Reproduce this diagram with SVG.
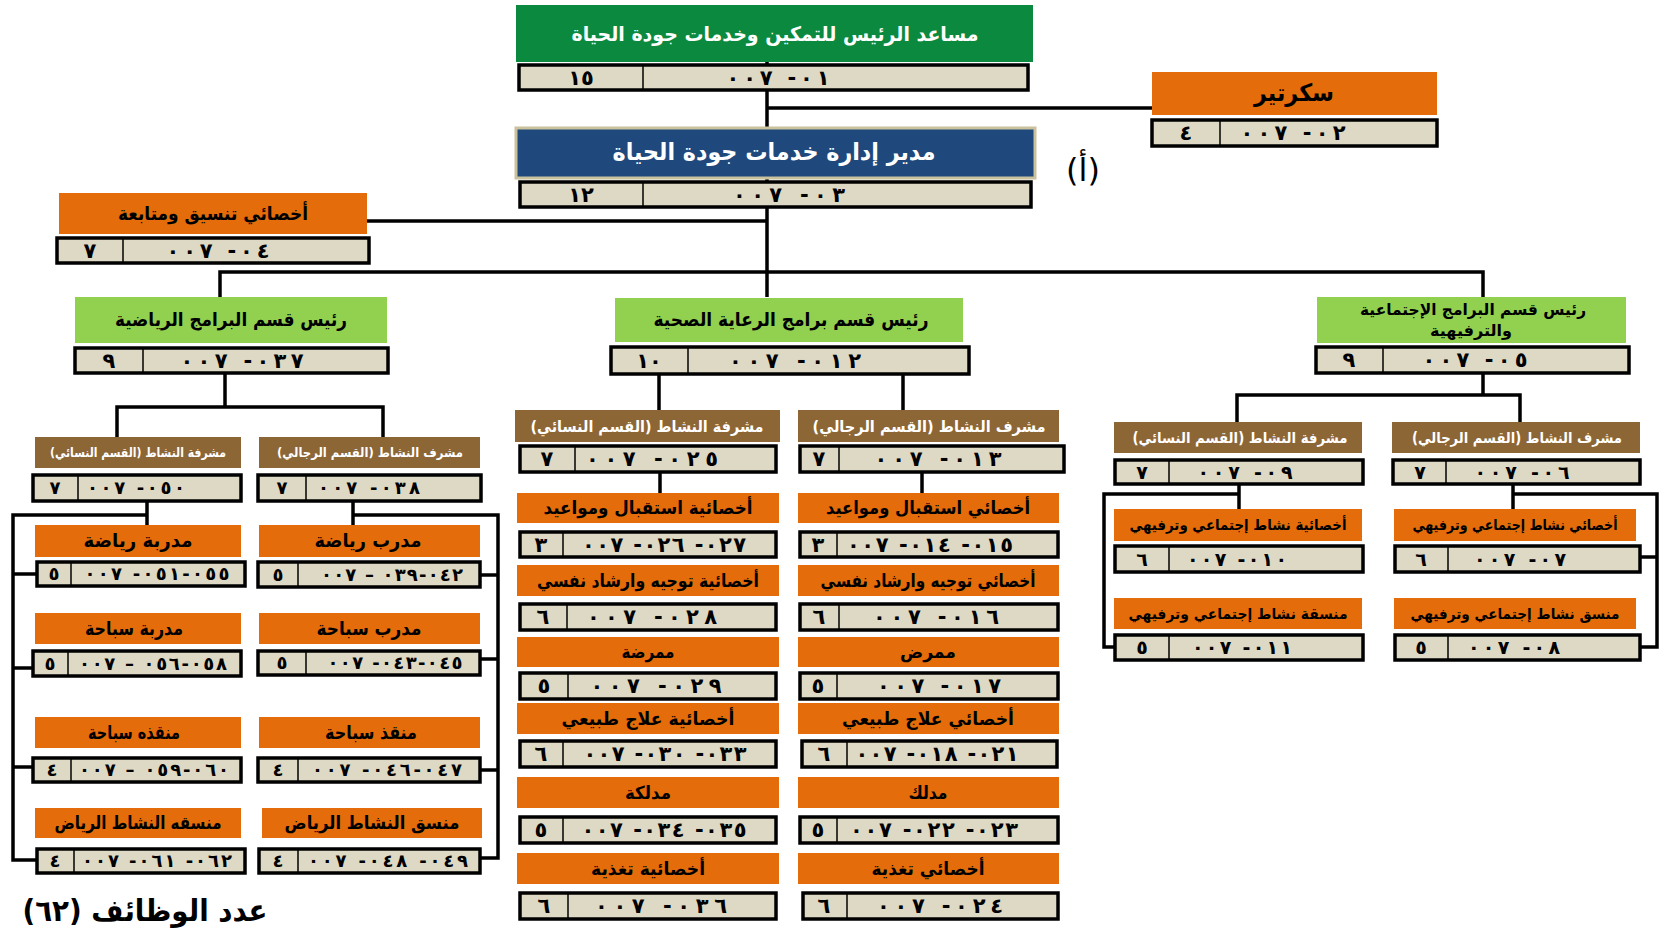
<svg xmlns="http://www.w3.org/2000/svg" width="1661" height="930" viewBox="0 0 1661 930">
<style>
.bg{fill:#fff}
.ln{fill:none;stroke:#000;stroke-width:3.5;stroke-linejoin:miter}
.cb{fill:#ddd9c4;stroke:#000;stroke-width:3.5}
.dv{stroke:#000;stroke-width:1.5}
.or{fill:#e46c0a}
.gr{fill:#92d050}
.br{fill:#8d6636}
.dg{fill:#0b8a3f}
.bl{fill:#1f497d;stroke:#c9c29c;stroke-width:3}
.ar{font-family:"DejaVu Sans",sans-serif;font-weight:bold;direction:rtl;text-anchor:middle;fill:#000}
.w{fill:#fff}
.cd{font-family:"DejaVu Sans",sans-serif;font-weight:bold;direction:ltr;unicode-bidi:bidi-override;text-anchor:middle;fill:#000;font-size:21px}
.s15{font-size:18px}
.s16{font-size:19px}
</style>
<rect class="bg" x="0" y="0" width="1661" height="930"/>
<g id="connectors">
<path class="ln" d="M767 62 V297"/>
<path class="ln" d="M767 108 H1152"/>
<path class="ln" d="M767 221 H367"/>
<path class="ln" d="M220 297 V272 H1483 V297"/>
<path class="ln" d="M225 373 V407"/>
<path class="ln" d="M117 437 V407 H383 V437"/>
<path class="ln" d="M659 374 V410"/>
<path class="ln" d="M903 374 V410"/>
<path class="ln" d="M1483 373 V395"/>
<path class="ln" d="M1237 422 V395 H1520 V422"/>
<path class="ln" d="M147 501 V525"/>
<path class="ln" d="M147 515 H13 V860 H37"/>
<path class="ln" d="M13 574 H37"/>
<path class="ln" d="M13 668 H33"/>
<path class="ln" d="M13 767 H33"/>
<path class="ln" d="M353 501 V525"/>
<path class="ln" d="M353 515 H498 V858 H480"/>
<path class="ln" d="M480 575 H498"/>
<path class="ln" d="M480 659 H498"/>
<path class="ln" d="M480 770 H498"/>
<path class="ln" d="M660 472 V493"/>
<path class="ln" d="M922 472 V493"/>
<path class="ln" d="M1239 484 V510"/>
<path class="ln" d="M1239 494 H1104 V647 H1115"/>
<path class="ln" d="M1513 484 V510"/>
<path class="ln" d="M1513 494 H1657 V647 H1640"/>
<path class="ln" d="M1640 557 H1657"/>
</g>

<g id="n-assistant">
<rect class="dg" x="516" y="5" width="517" height="57"/>
<text class="ar w" x="775" y="41" font-size="20" textLength="407" lengthAdjust="spacingAndGlyphs">مساعد الرئيس للتمكين وخدمات جودة الحياة</text>
<rect class="cb" x="519" y="65" width="509" height="25"/>
<line class="dv" x1="643" y1="65" x2="643" y2="90"/>
<text class="cd" x="581" y="85">١٥</text>
<text class="cd" x="778" y="85" textLength="103" lengthAdjust="spacing">٠٠٧ -٠١</text>
</g>

<g id="n-secretary">
<rect class="or" x="1152" y="72" width="285" height="43"/>
<text class="ar" x="1294" y="101" font-size="24" textLength="80" lengthAdjust="spacingAndGlyphs">سكرتير</text>
<rect class="cb" x="1152" y="120" width="285" height="26"/>
<line class="dv" x1="1220" y1="120" x2="1220" y2="146"/>
<text class="cd" x="1186" y="140">٤</text>
<text class="cd" x="1293" y="140" textLength="105" lengthAdjust="spacing">٠٠٧ -٠٢</text>
</g>

<g id="n-director">
<rect class="bl" x="516" y="128" width="519" height="50"/>
<text class="ar w" x="774" y="160" font-size="24" textLength="323" lengthAdjust="spacingAndGlyphs">مدير إدارة خدمات جودة الحياة</text>
<rect class="cb" x="520" y="182" width="511" height="25"/>
<line class="dv" x1="643" y1="182" x2="643" y2="207"/>
<text class="cd" x="581" y="202">١٢</text>
<text class="cd" x="789" y="202" textLength="112" lengthAdjust="spacing">٠٠٧ -٠٣</text>
</g>

<text x="1083" y="181" font-family="DejaVu Sans, sans-serif" font-size="32" text-anchor="middle" direction="rtl">(أ)</text>

<g id="n-coord">
<rect class="or" x="59" y="193" width="308" height="41"/>
<text class="ar" x="213" y="220" font-size="19" textLength="190" lengthAdjust="spacingAndGlyphs">أخصائي تنسيق ومتابعة</text>
<rect class="cb" x="57" y="238" width="312" height="25"/>
<line class="dv" x1="123" y1="238" x2="123" y2="263"/>
<text class="cd" x="90" y="258">٧</text>
<text class="cd" x="218" y="258" textLength="103" lengthAdjust="spacing">٠٠٧ -٠٤</text>
</g>

<g id="n-sports-head">
<rect class="gr" x="75" y="297" width="312" height="46"/>
<text class="ar" x="231" y="326" font-size="19" textLength="232" lengthAdjust="spacingAndGlyphs">رئيس قسم البرامج الرياضية</text>
<rect class="cb" x="75" y="348" width="313" height="25"/>
<line class="dv" x1="143" y1="348" x2="143" y2="373"/>
<text class="cd" x="109" y="368">٩</text>
<text class="cd" x="242" y="368" textLength="123" lengthAdjust="spacing">٠٠٧ -٠٣٧</text>
</g>

<g id="n-health-head">
<rect class="gr" x="615" y="298" width="348" height="44"/>
<text class="ar" x="791" y="326" font-size="19" textLength="275" lengthAdjust="spacingAndGlyphs">رئيس قسم برامج الرعاية الصحية</text>
<rect class="cb" x="611" y="347" width="358" height="27"/>
<line class="dv" x1="688" y1="347" x2="688" y2="374"/>
<text class="cd" x="649" y="368">١٠</text>
<text class="cd" x="795" y="368" textLength="132" lengthAdjust="spacing">٠٠٧ -٠١٢</text>
</g>

<g id="n-social-head">
<rect class="gr" x="1317" y="297" width="309" height="46"/>
<text class="ar" x="1473" y="315" font-size="16" textLength="226" lengthAdjust="spacingAndGlyphs">رئيس قسم البرامج الإجتماعية</text>
<text class="ar" x="1471" y="336" font-size="16" textLength="82" lengthAdjust="spacingAndGlyphs">والترفيهية</text>
<rect class="cb" x="1316" y="347" width="313" height="26"/>
<line class="dv" x1="1383" y1="347" x2="1383" y2="373"/>
<text class="cd" x="1349" y="367">٩</text>
<text class="cd" x="1475" y="367" textLength="105" lengthAdjust="spacing">٠٠٧ -٠٥</text>
</g>

<!-- Sports section -->
<g id="n-sports-sup-f">
<rect class="br" x="35" y="437" width="206" height="31"/>
<text class="ar w" x="138" y="457" font-size="13" textLength="176" lengthAdjust="spacingAndGlyphs">مشرفة النشاط (القسم النسائي)</text>
<rect class="cb" x="33" y="475" width="208" height="26"/>
<line class="dv" x1="78" y1="475" x2="78" y2="501"/>
<text class="cd s15" x="55" y="494">٧</text>
<text class="cd s15" x="136" y="494" textLength="98" lengthAdjust="spacing">٠٠٧ -٠٥٠</text>
</g>
<g id="n-sports-sup-m">
<rect class="br" x="259" y="437" width="221" height="31"/>
<text class="ar w" x="370" y="457" font-size="13" textLength="186" lengthAdjust="spacingAndGlyphs">مشرف النشاط (القسم الرجالي)</text>
<rect class="cb" x="258" y="475" width="223" height="26"/>
<line class="dv" x1="306" y1="475" x2="306" y2="501"/>
<text class="cd s15" x="282" y="494">٧</text>
<text class="cd s15" x="369" y="494" textLength="102" lengthAdjust="spacing">٠٠٧ -٠٣٨</text>
</g>

<g id="n-s-f1">
<rect class="or" x="35" y="525" width="206" height="32"/>
<text class="ar" x="138" y="547" font-size="19" textLength="109" lengthAdjust="spacingAndGlyphs">مدربة رياضة</text>
<rect class="cb" x="37" y="562" width="208" height="24"/>
<line class="dv" x1="71" y1="562" x2="71" y2="586"/>
<text class="cd s15" x="54" y="580">٥</text>
<text class="cd s15" x="157" y="580" textLength="145" lengthAdjust="spacing">٠٠٧ -٠٥١-٠٥٥</text>
</g>
<g id="n-s-f2">
<rect class="or" x="35" y="613" width="206" height="31"/>
<text class="ar" x="134" y="635" font-size="19" textLength="98" lengthAdjust="spacingAndGlyphs">مدربة سباحة</text>
<rect class="cb" x="33" y="651" width="208" height="25"/>
<line class="dv" x1="68" y1="651" x2="68" y2="676"/>
<text class="cd s15" x="50" y="670">٥</text>
<text class="cd s15" x="153" y="670" textLength="148" lengthAdjust="spacing">٠٠٧ – ٠٥٦-٠٥٨</text>
</g>
<g id="n-s-f3">
<rect class="or" x="35" y="717" width="206" height="31"/>
<text class="ar" x="134" y="739" font-size="19" textLength="92" lengthAdjust="spacingAndGlyphs">منقذه سباحة</text>
<rect class="cb" x="33" y="758" width="208" height="24"/>
<line class="dv" x1="71" y1="758" x2="71" y2="782"/>
<text class="cd s15" x="52" y="776">٤</text>
<text class="cd s15" x="154" y="776" textLength="150" lengthAdjust="spacing">٠٠٧ – ٠٥٩-٠٦٠</text>
</g>
<g id="n-s-f4">
<rect class="or" x="35" y="808" width="206" height="30"/>
<text class="ar" x="138" y="829" font-size="18" textLength="167" lengthAdjust="spacingAndGlyphs">منسقه النشاط الرياض</text>
<rect class="cb" x="37" y="849" width="208" height="24"/>
<line class="dv" x1="74" y1="849" x2="74" y2="873"/>
<text class="cd s15" x="55" y="867">٤</text>
<text class="cd s15" x="157" y="867" textLength="150" lengthAdjust="spacing">٠٠٧ -٠٦١ -٠٦٢</text>
</g>

<g id="n-s-m1">
<rect class="or" x="259" y="525" width="221" height="32"/>
<text class="ar" x="368" y="547" font-size="19" textLength="107" lengthAdjust="spacingAndGlyphs">مدرب رياضة</text>
<rect class="cb" x="258" y="562" width="222" height="25"/>
<line class="dv" x1="298" y1="562" x2="298" y2="587"/>
<text class="cd s15" x="278" y="581">٥</text>
<text class="cd s15" x="392" y="581" textLength="142" lengthAdjust="spacing">٠٠٧ – ٠٣٩-٠٤٢</text>
</g>
<g id="n-s-m2">
<rect class="or" x="259" y="613" width="221" height="31"/>
<text class="ar" x="369" y="635" font-size="19" textLength="105" lengthAdjust="spacingAndGlyphs">مدرب سباحة</text>
<rect class="cb" x="258" y="651" width="222" height="24"/>
<line class="dv" x1="306" y1="651" x2="306" y2="675"/>
<text class="cd s15" x="282" y="669">٥</text>
<text class="cd s15" x="395" y="669" textLength="135" lengthAdjust="spacing">٠٠٧ -٠٤٣-٠٤٥</text>
</g>
<g id="n-s-m3">
<rect class="or" x="259" y="717" width="221" height="31"/>
<text class="ar" x="371" y="739" font-size="19" textLength="92" lengthAdjust="spacingAndGlyphs">منقذ سباحة</text>
<rect class="cb" x="258" y="758" width="222" height="24"/>
<line class="dv" x1="298" y1="758" x2="298" y2="782"/>
<text class="cd s15" x="278" y="776">٤</text>
<text class="cd s15" x="387" y="776" textLength="150" lengthAdjust="spacing">٠٠٧ -٠٤٦-٠٤٧</text>
</g>
<g id="n-s-m4">
<rect class="or" x="262" y="808" width="220" height="30"/>
<text class="ar" x="372" y="829" font-size="18" textLength="175" lengthAdjust="spacingAndGlyphs">منسق النشاط الرياض</text>
<rect class="cb" x="259" y="849" width="221" height="24"/>
<line class="dv" x1="298" y1="849" x2="298" y2="873"/>
<text class="cd s15" x="278" y="867">٤</text>
<text class="cd s15" x="388" y="867" textLength="160" lengthAdjust="spacing">٠٠٧ -٠٤٨ -٠٤٩</text>
</g>

<!-- Health section -->
<g id="n-h-sup-f">
<rect class="br" x="515" y="410" width="265" height="32"/>
<text class="ar w" x="647" y="432" font-size="16" textLength="233" lengthAdjust="spacingAndGlyphs">مشرفة النشاط (القسم النسائي)</text>
<rect class="cb" x="520" y="446" width="256" height="26"/>
<line class="dv" x1="575" y1="446" x2="575" y2="472"/>
<text class="cd" x="547" y="466">٧</text>
<text class="cd" x="652" y="466" textLength="132" lengthAdjust="spacing">٠٠٧ -٠٢٥</text>
</g>
<g id="n-h-sup-m">
<rect class="br" x="798" y="410" width="261" height="32"/>
<text class="ar w" x="929" y="432" font-size="16" textLength="233" lengthAdjust="spacingAndGlyphs">مشرف النشاط  (القسم الرجالي)</text>
<rect class="cb" x="800" y="446" width="264" height="26"/>
<line class="dv" x1="839" y1="446" x2="839" y2="472"/>
<text class="cd" x="819" y="466">٧</text>
<text class="cd" x="938" y="466" textLength="127" lengthAdjust="spacing">٠٠٧ -٠١٣</text>
</g>

<g id="n-h-f1">
<rect class="or" x="517" y="493" width="262" height="30"/>
<text class="ar" x="648" y="514" font-size="18" textLength="209" lengthAdjust="spacingAndGlyphs">أخصائية استقبال ومواعيد</text>
<rect class="cb" x="520" y="532" width="256" height="25"/>
<line class="dv" x1="563" y1="532" x2="563" y2="557"/>
<text class="cd" x="541" y="552">٣</text>
<text class="cd" x="664" y="552" textLength="164" lengthAdjust="spacing">٠٠٧ -٠٢٦ -٠٢٧</text>
</g>
<g id="n-h-f2">
<rect class="or" x="517" y="565" width="262" height="31"/>
<text class="ar" x="648" y="587" font-size="18" textLength="222" lengthAdjust="spacingAndGlyphs">أخصائية توجيه وارشاد نفسي</text>
<rect class="cb" x="520" y="604" width="256" height="26"/>
<line class="dv" x1="567" y1="604" x2="567" y2="630"/>
<text class="cd" x="543" y="624">٦</text>
<text class="cd" x="652" y="624" textLength="130" lengthAdjust="spacing">٠٠٧ -٠٢٨</text>
</g>
<g id="n-h-f3">
<rect class="or" x="517" y="637" width="262" height="30"/>
<text class="ar" x="648" y="658" font-size="18" textLength="53" lengthAdjust="spacingAndGlyphs">ممرضة</text>
<rect class="cb" x="520" y="673" width="256" height="26"/>
<line class="dv" x1="568" y1="673" x2="568" y2="699"/>
<text class="cd" x="544" y="693">٥</text>
<text class="cd" x="656" y="693" textLength="131" lengthAdjust="spacing">٠٠٧ -٠٢٩</text>
</g>
<g id="n-h-f4">
<rect class="or" x="517" y="703" width="262" height="31"/>
<text class="ar" x="648" y="725" font-size="18" textLength="173" lengthAdjust="spacingAndGlyphs">أخصائية علاج طبيعي</text>
<rect class="cb" x="520" y="741" width="256" height="26"/>
<line class="dv" x1="563" y1="741" x2="563" y2="767"/>
<text class="cd" x="541" y="761">٦</text>
<text class="cd" x="665" y="761" textLength="163" lengthAdjust="spacing">٠٠٧ -٠٣٠ -٠٣٣</text>
</g>
<g id="n-h-f5">
<rect class="or" x="517" y="777" width="262" height="31"/>
<text class="ar" x="648" y="799" font-size="18" textLength="46" lengthAdjust="spacingAndGlyphs">مدلكة</text>
<rect class="cb" x="520" y="817" width="256" height="26"/>
<line class="dv" x1="563" y1="817" x2="563" y2="843"/>
<text class="cd" x="541" y="837">٥</text>
<text class="cd" x="664" y="837" textLength="165" lengthAdjust="spacing">٠٠٧ -٠٣٤ -٠٣٥</text>
</g>
<g id="n-h-f6">
<rect class="or" x="517" y="853" width="262" height="31"/>
<text class="ar" x="648" y="875" font-size="18" textLength="114" lengthAdjust="spacingAndGlyphs">أخصائية تغذية</text>
<rect class="cb" x="520" y="893" width="256" height="26"/>
<line class="dv" x1="568" y1="893" x2="568" y2="919"/>
<text class="cd" x="544" y="913">٦</text>
<text class="cd" x="661" y="913" textLength="132" lengthAdjust="spacing">٠٠٧ -٠٣٦</text>
</g>

<g id="n-h-m1">
<rect class="or" x="798" y="493" width="261" height="30"/>
<text class="ar" x="928" y="514" font-size="18" textLength="204" lengthAdjust="spacingAndGlyphs">أخصائي استقبال ومواعيد</text>
<rect class="cb" x="800" y="532" width="258" height="25"/>
<line class="dv" x1="837" y1="532" x2="837" y2="557"/>
<text class="cd" x="818" y="552">٣</text>
<text class="cd" x="930" y="552" textLength="166" lengthAdjust="spacing">٠٠٧ -٠١٤ -٠١٥</text>
</g>
<g id="n-h-m2">
<rect class="or" x="798" y="565" width="261" height="31"/>
<text class="ar" x="928" y="587" font-size="18" textLength="215" lengthAdjust="spacingAndGlyphs">أخصائي توجيه وارشاد نفسي</text>
<rect class="cb" x="800" y="604" width="258" height="26"/>
<line class="dv" x1="839" y1="604" x2="839" y2="630"/>
<text class="cd" x="819" y="624">٦</text>
<text class="cd" x="936" y="624" textLength="126" lengthAdjust="spacing">٠٠٧ -٠١٦</text>
</g>
<g id="n-h-m3">
<rect class="or" x="798" y="637" width="261" height="30"/>
<text class="ar" x="928" y="658" font-size="18" textLength="56" lengthAdjust="spacingAndGlyphs">ممرض</text>
<rect class="cb" x="800" y="673" width="258" height="26"/>
<line class="dv" x1="837" y1="673" x2="837" y2="699"/>
<text class="cd" x="818" y="693">٥</text>
<text class="cd" x="939" y="693" textLength="124" lengthAdjust="spacing">٠٠٧ -٠١٧</text>
</g>
<g id="n-h-m4">
<rect class="or" x="798" y="703" width="261" height="31"/>
<text class="ar" x="928" y="725" font-size="18" textLength="172" lengthAdjust="spacingAndGlyphs">أخصائي علاج طبيعي</text>
<rect class="cb" x="802" y="741" width="255" height="26"/>
<line class="dv" x1="847" y1="741" x2="847" y2="767"/>
<text class="cd" x="824" y="761">٦</text>
<text class="cd" x="937" y="761" textLength="163" lengthAdjust="spacing">٠٠٧ -٠١٨ -٠٢١</text>
</g>
<g id="n-h-m5">
<rect class="or" x="798" y="777" width="261" height="31"/>
<text class="ar" x="928" y="799" font-size="18" textLength="39" lengthAdjust="spacingAndGlyphs">مدلك</text>
<rect class="cb" x="800" y="817" width="258" height="26"/>
<line class="dv" x1="837" y1="817" x2="837" y2="843"/>
<text class="cd" x="818" y="837">٥</text>
<text class="cd" x="934" y="837" textLength="168" lengthAdjust="spacing">٠٠٧ -٠٢٢ -٠٢٣</text>
</g>
<g id="n-h-m6">
<rect class="or" x="798" y="853" width="261" height="31"/>
<text class="ar" x="928" y="875" font-size="18" textLength="113" lengthAdjust="spacingAndGlyphs">أخصائي تغذية</text>
<rect class="cb" x="803" y="893" width="255" height="26"/>
<line class="dv" x1="847" y1="893" x2="847" y2="919"/>
<text class="cd" x="824" y="913">٦</text>
<text class="cd" x="940" y="913" textLength="126" lengthAdjust="spacing">٠٠٧ -٠٢٤</text>
</g>

<!-- Social section -->
<g id="n-r-sup-f">
<rect class="br" x="1114" y="422" width="248" height="31"/>
<text class="ar w" x="1240" y="443" font-size="15" textLength="215" lengthAdjust="spacingAndGlyphs">مشرفة النشاط  (القسم النسائي)</text>
<rect class="cb" x="1115" y="460" width="248" height="24"/>
<line class="dv" x1="1169" y1="460" x2="1169" y2="484"/>
<text class="cd s16" x="1142" y="479">٧</text>
<text class="cd s16" x="1245" y="479" textLength="95" lengthAdjust="spacing">٠٠٧ -٠٩</text>
</g>
<g id="n-r-sup-m">
<rect class="br" x="1392" y="422" width="248" height="31"/>
<text class="ar w" x="1517" y="443" font-size="15" textLength="210" lengthAdjust="spacingAndGlyphs">مشرف النشاط (القسم الرجالي)</text>
<rect class="cb" x="1393" y="460" width="247" height="24"/>
<line class="dv" x1="1446" y1="460" x2="1446" y2="484"/>
<text class="cd s16" x="1420" y="479">٧</text>
<text class="cd s16" x="1522" y="479" textLength="95" lengthAdjust="spacing">٠٠٧ -٠٦</text>
</g>
<g id="n-r-f1">
<rect class="or" x="1114" y="509" width="248" height="32"/>
<text class="ar" x="1238" y="530" font-size="15" textLength="217" lengthAdjust="spacingAndGlyphs">أخصائية نشاط إجتماعي وترفيهي</text>
<rect class="cb" x="1115" y="546" width="248" height="26"/>
<line class="dv" x1="1169" y1="546" x2="1169" y2="572"/>
<text class="cd s16" x="1142" y="566">٦</text>
<text class="cd s16" x="1237" y="566" textLength="100" lengthAdjust="spacing">٠٠٧ -٠١٠</text>
</g>
<g id="n-r-f2">
<rect class="or" x="1114" y="598" width="248" height="31"/>
<text class="ar" x="1238" y="619" font-size="15" textLength="219" lengthAdjust="spacingAndGlyphs">منسقة نشاط إجتماعي وترفيهي</text>
<rect class="cb" x="1115" y="635" width="248" height="25"/>
<line class="dv" x1="1169" y1="635" x2="1169" y2="660"/>
<text class="cd s16" x="1142" y="654">٥</text>
<text class="cd s16" x="1242" y="654" textLength="100" lengthAdjust="spacing">٠٠٧ -٠١١</text>
</g>
<g id="n-r-m1">
<rect class="or" x="1394" y="509" width="242" height="32"/>
<text class="ar" x="1515" y="530" font-size="15" textLength="205" lengthAdjust="spacingAndGlyphs">أخصائي نشاط إجتماعي وترفيهي</text>
<rect class="cb" x="1395" y="546" width="245" height="26"/>
<line class="dv" x1="1448" y1="546" x2="1448" y2="572"/>
<text class="cd s16" x="1421" y="566">٦</text>
<text class="cd s16" x="1520" y="566" textLength="92" lengthAdjust="spacing">٠٠٧ -٠٧</text>
</g>
<g id="n-r-m2">
<rect class="or" x="1394" y="598" width="242" height="31"/>
<text class="ar" x="1515" y="619" font-size="15" textLength="209" lengthAdjust="spacingAndGlyphs">منسق نشاط إجتماعي وترفيهي</text>
<rect class="cb" x="1395" y="635" width="245" height="25"/>
<line class="dv" x1="1448" y1="635" x2="1448" y2="660"/>
<text class="cd s16" x="1421" y="654">٥</text>
<text class="cd s16" x="1514" y="654" textLength="92" lengthAdjust="spacing">٠٠٧ -٠٨</text>
</g>

<text class="ar" x="145" y="921" font-size="30" textLength="245" lengthAdjust="spacingAndGlyphs">عدد الوظائف (٦٢)</text>
</svg>
